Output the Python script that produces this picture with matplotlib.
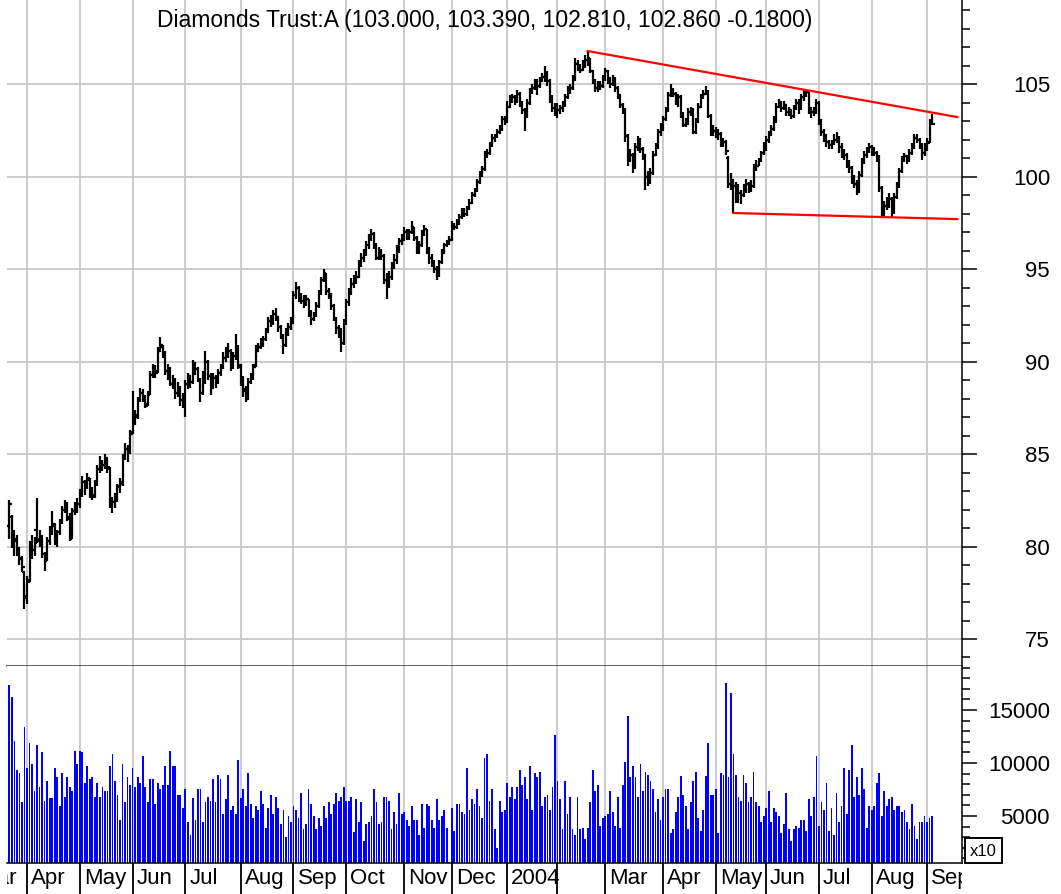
import matplotlib
matplotlib.use("Agg")
import matplotlib.pyplot as plt
from matplotlib.collections import LineCollection
from matplotlib.patches import Rectangle
from matplotlib.ticker import MultipleLocator, FuncFormatter
import numpy as np
import pandas as pd

plt.rcParams['font.family'] = ['Liberation Sans', 'DejaVu Sans']

title = "Diamonds Trust:A (103.000, 103.390, 102.810, 102.860 -0.1800)"
first_day = "2003-03-21"
# NYSE closed days in the window
holidays = ["2003-04-18", "2003-05-26", "2003-07-04", "2003-09-01", "2003-11-27",
            "2003-12-25", "2004-01-01", "2004-01-19", "2004-02-16", "2004-04-09",
            "2004-05-31", "2004-06-11", "2004-07-05", "2004-09-06"]

# daily bars, one line per month (Mar 2003 .. Sep 2004)
opens = [
    81.1, 81.6, 80.0, 80.3, 79.7, 79.3, 78.6,
    77.3, 78.2, 80.0, 79.8, 80.9, 80.3, 80.4, 79.6, 79.3, 80.3, 80.8, 81.1, 80.4, 80.8, 81.4, 82.0, 82.2, 81.5, 80.5, 81.9, 82.2,
    82.3, 82.9, 83.5, 83.2, 83.6, 82.8, 82.8, 83.5, 84.2, 84.6, 84.4, 84.7, 84.2, 82.3, 82.4, 82.6, 83.3, 83.5, 84.9, 85.3, 85.2,
    86.2, 86.9, 87.1, 87.9, 88.3, 88.1, 87.7, 88.3, 89.3, 89.6, 89.5, 90.6, 90.8, 90.5, 89.5, 89.6, 88.8, 89.0, 88.3, 88.6, 87.9,
    88.0, 88.8, 89.2, 88.9, 89.9, 89.6, 89.0, 88.3, 89.0, 90.0, 89.2, 88.6, 89.1, 89.0, 89.4, 89.7, 90.2, 90.5, 90.6, 89.8, 90.3, 90.8,
    89.7, 89.0, 88.5, 88.0, 88.9, 89.2, 89.8, 90.6, 90.8, 91.0, 91.2, 91.7, 92.2, 92.1, 92.6, 92.4, 91.9, 91.3, 90.9, 91.6, 91.9,
    92.2, 93.6, 94.0, 93.5, 93.3, 93.2, 93.4, 92.6, 92.3, 92.5, 93.0, 93.7, 94.4, 94.8, 93.8, 93.6, 93.0, 92.3, 91.8, 91.6, 91.0,
    92.1, 93.2, 93.8, 94.2, 94.4, 94.6, 95.3, 95.6, 95.9, 96.3, 96.7, 96.9, 96.3, 95.6, 96.0, 95.7, 94.4, 94.3, 94.6, 95.2, 95.5, 96.1, 96.5,
    96.6, 97.0, 96.8, 97.0, 97.3, 96.7, 96.0, 96.3, 96.9, 97.2, 96.0, 95.6, 95.3, 95.0, 94.7, 95.4, 95.9, 96.3, 96.4,
    96.6, 97.3, 97.3, 97.5, 97.8, 98.1, 98.0, 98.3, 98.6, 99.0, 99.3, 99.7, 100.1, 100.4, 101.2, 101.3, 101.7, 102.1, 102.2, 102.4, 102.6, 103.1,
    103.0, 103.8, 104.2, 104.3, 104.1, 104.5, 104.0, 103.6, 103.3, 104.0, 104.6, 104.8, 105.1, 104.9, 105.2, 105.4, 105.6, 105.2, 104.2, 103.7,
    103.6, 103.6, 103.7, 103.9, 104.3, 104.7, 104.8, 105.3, 106.1, 106.0, 105.8, 106.1, 106.3, 106.4, 105.7, 105.2, 104.8, 105.0, 104.9,
    105.3, 105.7, 105.2, 105.0, 105.3, 104.8, 104.4, 103.9, 103.6, 102.2, 100.9, 101.2, 100.5, 101.6, 102.0, 101.5, 101.2, 100.0, 99.7, 100.2, 101.2, 101.6, 102.4,
    102.6, 103.1, 103.6, 104.4, 104.7, 104.5, 104.1, 104.3, 103.4, 102.8, 103.0, 103.5, 103.6, 102.4, 103.0, 103.8, 104.3, 104.5, 104.6, 103.3, 102.4,
    102.5, 102.4, 102.3, 101.8, 101.9, 101.0, 99.6, 99.8, 99.5, 99.4, 99.1, 99.0, 99.3, 99.6, 99.3, 99.5, 100.5, 100.6, 100.9, 101.3,
    101.7, 102.0, 102.3, 102.6, 103.0, 103.8, 104.0, 103.7, 103.9, 103.5, 103.6, 103.3, 103.7, 104.0, 103.7, 104.3, 104.5, 104.6, 103.6, 103.5, 103.6,
    104.0, 103.0, 102.4, 102.1, 101.9, 101.7, 101.8, 102.0, 102.1, 101.6, 101.3, 101.2, 100.7, 100.5, 99.9, 99.6, 99.2, 100.1, 100.8, 101.2, 101.4,
    101.6, 101.4, 101.3, 101.0, 99.4, 98.1, 98.4, 98.6, 98.8, 98.1, 98.9, 99.5, 100.3, 100.9, 101.1, 100.9, 101.3, 101.6, 102.1, 102.0, 101.7, 101.3,
    101.6, 101.9, 103.0,
]
highs = [
    82.5, 81.7, 80.9, 80.6, 80.0, 79.5, 78.7,
    78.4, 80.3, 80.6, 80.5, 82.6, 80.9, 80.6, 79.7, 80.5, 81.1, 81.9, 81.3, 80.9, 81.5, 82.2, 82.5, 82.4, 81.8, 82.1, 82.4, 82.6,
    83.1, 83.8, 83.6, 84.0, 83.7, 83.2, 83.6, 84.4, 84.9, 84.7, 85.0, 84.8, 84.3, 82.7, 82.9, 83.4, 83.7, 85.0, 85.6, 85.5, 86.3,
    88.4, 87.4, 88.1, 88.6, 88.5, 88.2, 88.4, 89.5, 89.9, 89.8, 90.8, 91.35, 90.9, 90.6, 89.9, 89.7, 89.3, 89.1, 88.9, 88.7, 88.3,
    89.0, 89.4, 89.3, 90.1, 90.0, 89.7, 89.1, 89.5, 90.6, 90.1, 89.4, 89.4, 89.3, 89.6, 89.9, 90.5, 90.8, 91.0, 90.7, 90.5, 91.5, 90.9,
    89.9, 89.2, 88.7, 89.1, 89.4, 89.9, 90.9, 91.0, 91.3, 91.4, 91.8, 92.4, 92.5, 92.8, 92.9, 92.4, 92.0, 91.5, 91.8, 92.1, 92.4,
    93.8, 94.3, 94.1, 93.7, 93.6, 93.6, 93.4, 92.8, 92.7, 93.2, 93.9, 94.6, 95.0, 94.8, 94.0, 93.7, 93.1, 92.4, 92.0, 91.8, 92.3,
    93.4, 94.0, 94.5, 94.7, 94.9, 95.5, 95.9, 96.1, 96.5, 96.9, 97.2, 97.0, 96.4, 96.2, 96.1, 95.8, 94.8, 94.9, 95.4, 95.8, 96.3, 96.7, 96.9,
    97.3, 97.2, 97.2, 97.6, 97.3, 96.8, 96.5, 97.1, 97.4, 97.2, 96.2, 95.8, 95.5, 95.2, 95.5, 96.1, 96.4, 96.6, 96.8,
    97.6, 97.5, 97.7, 98.0, 98.3, 98.3, 98.4, 98.8, 99.2, 99.4, 99.9, 100.3, 100.6, 101.4, 101.5, 101.9, 102.3, 102.3, 102.6, 102.8, 103.3, 103.3,
    104.1, 104.4, 104.5, 104.4, 104.7, 104.6, 104.1, 103.7, 104.2, 104.8, 105.0, 105.3, 105.3, 105.4, 105.6, 106.0, 105.7, 105.3, 104.4, 104.0,
    104.0, 103.9, 104.1, 104.5, 104.9, 105.0, 105.5, 106.4, 106.3, 106.1, 106.3, 106.6, 106.8, 106.4, 105.8, 105.3, 105.2, 105.2, 105.5,
    105.9, 105.8, 105.4, 105.5, 105.4, 104.9, 104.5, 104.0, 103.7, 102.3, 101.5, 101.3, 101.8, 102.2, 102.1, 101.6, 101.2, 100.3, 100.5, 101.4, 101.8, 102.6, 102.9,
    103.3, 103.8, 104.6, 105.0, 104.8, 104.6, 104.5, 104.4, 103.5, 103.2, 103.7, 103.8, 103.7, 103.2, 104.0, 104.5, 104.7, 104.9, 104.7, 103.4, 102.8,
    102.7, 102.6, 102.4, 102.1, 102.0, 101.1, 100.2, 99.9, 99.7, 99.6, 99.3, 99.6, 99.9, 99.7, 99.8, 100.7, 100.9, 101.0, 101.4, 101.9,
    102.2, 102.5, 102.8, 103.3, 104.0, 104.2, 104.1, 104.1, 103.9, 103.8, 103.6, 103.9, 104.2, 104.2, 104.5, 104.7, 104.7, 104.6, 103.8, 103.8, 104.2,
    104.1, 103.1, 102.6, 102.3, 102.0, 102.0, 102.3, 102.4, 102.2, 101.8, 101.5, 101.3, 100.9, 100.6, 100.1, 99.8, 100.3, 101.0, 101.4, 101.6, 101.8,
    101.7, 101.6, 101.4, 101.2, 99.5, 98.7, 98.9, 99.1, 98.9, 99.1, 99.7, 100.5, 101.1, 101.3, 101.2, 101.5, 101.8, 102.3, 102.3, 102.1, 101.8, 101.8,
    102.1, 103.15, 103.39,
]
lows = [
    80.4, 79.9, 79.5, 79.5, 79.0, 78.6, 76.6,
    76.9, 78.1, 79.3, 79.5, 80.2, 80.0, 79.4, 78.7, 79.2, 80.1, 80.6, 80.1, 80.0, 80.6, 81.2, 81.8, 81.4, 80.3, 80.4, 81.7, 81.8,
    82.1, 82.7, 82.8, 83.1, 82.6, 82.5, 82.6, 83.3, 84.0, 84.1, 84.2, 84.0, 82.1, 81.8, 82.1, 82.4, 82.9, 83.3, 84.7, 84.6, 85.0,
    86.1, 86.6, 86.9, 87.8, 87.8, 87.5, 87.6, 88.2, 89.1, 89.1, 89.4, 90.5, 90.2, 89.3, 89.0, 88.7, 88.5, 88.0, 88.1, 87.6, 87.5,
    87.0, 88.5, 88.6, 88.8, 89.3, 88.9, 87.8, 88.2, 88.8, 89.0, 88.2, 88.5, 88.6, 88.8, 89.2, 89.6, 90.0, 90.2, 89.5, 89.6, 90.1, 89.6,
    88.7, 88.1, 87.8, 87.9, 88.8, 89.0, 89.7, 90.5, 90.7, 90.8, 91.1, 91.6, 91.9, 92.0, 92.2, 91.6, 91.2, 90.4, 90.8, 91.4, 91.7,
    92.1, 93.4, 93.2, 93.1, 92.9, 93.0, 92.4, 92.0, 92.2, 92.4, 92.9, 93.6, 94.3, 93.6, 93.4, 92.8, 92.2, 91.5, 91.3, 90.5, 90.9,
    92.0, 93.0, 93.6, 94.0, 94.2, 94.5, 95.1, 95.4, 95.7, 96.1, 96.5, 96.1, 95.5, 95.5, 95.5, 94.2, 93.4, 94.0, 94.4, 95.0, 95.3, 95.9, 96.3,
    96.5, 96.6, 96.6, 96.9, 96.5, 95.8, 95.8, 96.2, 96.8, 95.8, 95.3, 95.1, 94.8, 94.4, 94.6, 95.3, 95.8, 96.2, 96.3,
    96.5, 97.1, 97.2, 97.4, 97.7, 97.8, 97.9, 98.2, 98.5, 98.9, 99.2, 99.6, 100.0, 100.3, 101.0, 101.2, 101.6, 101.9, 102.1, 102.3, 102.5, 102.8,
    102.9, 103.7, 104.0, 103.9, 104.0, 103.8, 103.4, 102.5, 103.2, 103.9, 104.5, 104.7, 104.4, 104.8, 105.1, 105.1, 104.9, 104.0, 103.5, 103.3,
    103.2, 103.4, 103.5, 103.8, 104.2, 104.5, 104.7, 105.2, 105.7, 105.6, 105.7, 105.9, 106.0, 105.6, 105.0, 104.6, 104.6, 104.7, 104.8,
    105.2, 105.0, 104.8, 104.9, 104.6, 104.2, 103.7, 103.4, 101.9, 100.6, 100.8, 100.2, 100.5, 101.4, 101.3, 100.9, 99.3, 99.5, 99.6, 100.1, 101.1, 101.5, 102.2,
    102.5, 103.0, 103.5, 104.3, 104.3, 103.9, 103.8, 103.2, 102.7, 102.7, 102.8, 103.3, 102.3, 102.3, 102.9, 103.7, 104.2, 104.4, 103.2, 102.2, 102.2,
    102.1, 102.0, 101.6, 101.6, 101.2, 99.4, 99.3, 98.05, 98.6, 98.6, 98.5, 98.9, 99.1, 99.1, 99.2, 99.4, 100.3, 100.6, 100.8, 101.2,
    101.4, 101.8, 102.2, 102.5, 102.9, 103.7, 103.5, 103.6, 103.3, 103.3, 103.1, 103.2, 103.6, 103.4, 103.6, 104.1, 104.3, 103.4, 103.2, 103.3, 103.4,
    102.8, 102.2, 101.9, 101.6, 101.5, 101.5, 101.7, 101.8, 101.3, 101.0, 100.9, 100.5, 100.2, 99.6, 99.4, 99.0, 99.1, 100.0, 100.7, 101.0, 101.3,
    101.1, 101.1, 100.8, 99.2, 97.9, 97.9, 98.2, 98.3, 97.82, 98.0, 98.8, 99.4, 100.2, 100.8, 100.7, 100.8, 101.2, 101.5, 101.8, 101.5, 100.9, 101.1,
    101.4, 101.8, 102.81,
]
closes = [
    82.3, 80.2, 80.4, 79.8, 79.4, 78.9, 77.2,
    78.1, 80.0, 79.8, 80.2, 80.4, 80.5, 79.6, 79.2, 80.3, 80.9, 81.2, 80.3, 80.8, 81.4, 82.0, 82.3, 81.6, 80.4, 81.9, 82.2, 82.3,
    82.8, 83.5, 83.3, 83.7, 82.9, 82.7, 83.4, 84.2, 84.6, 84.4, 84.8, 84.3, 82.3, 82.4, 82.6, 83.2, 83.4, 84.8, 85.3, 85.1, 86.1,
    86.9, 87.0, 87.9, 88.3, 88.1, 87.6, 88.2, 89.3, 89.6, 89.4, 90.6, 90.9, 90.5, 89.5, 89.6, 88.8, 89.0, 88.3, 88.6, 87.9, 88.0,
    88.8, 89.2, 88.9, 89.9, 89.6, 89.0, 88.3, 88.9, 90.0, 89.2, 88.6, 89.1, 89.0, 89.4, 89.7, 90.2, 90.5, 90.6, 89.8, 90.3, 90.8, 89.8,
    89.0, 88.4, 88.0, 88.9, 89.2, 89.7, 90.6, 90.8, 91.0, 91.2, 91.6, 92.2, 92.1, 92.6, 92.4, 91.9, 91.3, 90.9, 91.6, 91.9, 92.1,
    93.6, 94.0, 93.5, 93.3, 93.2, 93.4, 92.6, 92.3, 92.5, 93.0, 93.7, 94.4, 94.8, 93.8, 93.6, 93.0, 92.3, 91.8, 91.6, 91.0, 92.1,
    93.2, 93.8, 94.2, 94.4, 94.6, 95.3, 95.6, 95.9, 96.3, 96.7, 96.9, 96.3, 95.6, 96.0, 95.7, 94.4, 94.3, 94.6, 95.2, 95.5, 96.1, 96.5, 96.6,
    97.0, 96.8, 97.0, 97.3, 96.7, 96.0, 96.3, 96.9, 97.2, 96.0, 95.6, 95.3, 95.0, 94.7, 95.4, 95.9, 96.3, 96.4, 96.6,
    97.3, 97.3, 97.5, 97.8, 98.1, 98.0, 98.3, 98.6, 99.0, 99.3, 99.7, 100.1, 100.4, 101.2, 101.3, 101.7, 102.1, 102.2, 102.4, 102.6, 103.1, 103.0,
    103.8, 104.2, 104.3, 104.1, 104.5, 104.0, 103.6, 103.3, 104.0, 104.6, 104.8, 105.1, 104.9, 105.2, 105.4, 105.6, 105.2, 104.2, 103.7, 103.6,
    103.6, 103.7, 103.9, 104.3, 104.7, 104.8, 105.3, 106.1, 106.0, 105.8, 106.1, 106.3, 106.4, 105.7, 105.2, 104.8, 105.0, 104.9, 105.3,
    105.7, 105.2, 105.0, 105.3, 104.8, 104.4, 103.9, 103.6, 102.2, 100.9, 101.2, 100.5, 101.6, 102.0, 101.5, 101.2, 100.0, 99.7, 100.2, 101.2, 101.6, 102.4, 102.6,
    103.1, 103.6, 104.4, 104.7, 104.5, 104.1, 104.3, 103.4, 102.8, 103.0, 103.5, 103.6, 102.4, 103.0, 103.8, 104.3, 104.5, 104.6, 103.3, 102.4, 102.5,
    102.4, 102.3, 101.8, 101.9, 101.4, 99.6, 99.8, 99.5, 99.4, 99.1, 99.0, 99.3, 99.6, 99.3, 99.5, 100.5, 100.6, 100.9, 101.3, 101.7,
    102.0, 102.3, 102.6, 103.0, 103.8, 104.0, 103.7, 103.9, 103.5, 103.6, 103.3, 103.7, 104.0, 103.7, 104.3, 104.5, 104.6, 103.6, 103.5, 103.6, 104.0,
    103.0, 102.4, 102.1, 101.9, 101.7, 101.8, 102.0, 102.1, 101.6, 101.3, 101.2, 100.7, 100.5, 99.9, 99.6, 99.2, 100.1, 100.8, 101.2, 101.4, 101.6,
    101.4, 101.3, 101.0, 99.4, 98.1, 98.4, 98.6, 98.8, 98.1, 98.9, 99.5, 100.3, 100.9, 101.1, 100.9, 101.3, 101.6, 102.1, 102.0, 101.7, 101.3, 101.6,
    101.8, 103.04, 102.86,
]
# volume as shown on the axis (x10)
volumes = [
    17360, 16260, 12080, 9340, 9030, 6290, 13370, 9560, 11920, 9900,
    7360, 11730, 7700, 11010, 6450, 8300, 6670, 6670, 9560, 8650,
    5940, 9030, 6820, 8650, 7740, 7360, 11160, 9940, 11160, 11040,
    8080, 9750, 8460, 8650, 6820, 8110, 6820, 7740, 7360, 7360,
    9750, 10820, 8300, 7010, 4650, 9900, 6290, 8650, 7930, 9560,
    7740, 8650, 8080, 10660, 7740, 6290, 8460, 8460, 6100, 8110,
    7550, 7930, 9750, 7930, 11160, 9750, 9750, 7010, 7010, 5720,
    7550, 4470, 3180, 6670, 4650, 7550, 7550, 4470, 6290, 6820,
    6450, 8460, 6290, 8840, 8460, 5190, 6640, 8840, 5570, 5910,
    5190, 10280, 6670, 7550, 5910, 9030, 6100, 4810, 5910, 5570,
    7360, 6100, 3900, 5720, 7010, 5190, 6820, 5720, 4280, 5570,
    2990, 5000, 4470, 5910, 5570, 4810, 7200, 3740, 4280, 7550,
    6100, 5000, 3740, 4810, 4090, 5910, 4810, 6290, 5190, 6100,
    7200, 6450, 6820, 7740, 6450,
    6450, 6820, 3520, 6640, 4470, 6290, 2640, 4280, 4470, 5000,
    7550, 6290, 4280, 4470, 6820, 6820, 6450, 3740, 5380, 4280,
    7200, 5190, 5380, 4650, 4090, 5910, 4650, 4650, 3180, 6100,
    3900, 6100, 5910, 4650, 3900, 6640, 4650, 5000, 5570, 3900,
    630, 5720, 3550, 6100, 6100, 5380, 5190, 9560, 5570, 6640,
    6100, 7550, 5910, 4810, 10440, 10820, 6450, 7550, 3740, 1950,
    6450, 5380, 5570, 8080, 6820, 7740, 6640, 7740, 9370, 7930,
    8650, 6640, 9750, 5540, 9030, 8650, 9180, 5910, 6820, 7010,
    5540, 7740, 12640, 8270, 6640, 3740, 8270, 5190, 6820, 3740,
    3180, 6820, 3740, 3900, 2830, 3900, 6290, 9370, 7360, 7930,
    4090, 4810, 5000, 5190, 7360, 5380, 4090, 6820, 3900, 7930,
    10100, 14470, 8650, 9750, 8650, 6820, 9910, 7360, 9180, 8840,
    8270, 7550, 5380, 6640, 4650, 6820, 7550, 7550, 3370, 3740,
    5380,
    6820, 8810, 7010, 5910, 3740, 6290, 8270, 9180, 4810, 3550,
    5540, 8810, 11890, 7010, 7010, 7550, 3370, 9030, 8840, 17550,
    8650, 16640, 10820, 8840, 6820, 6450, 8840, 8080, 6290, 6820,
    9180, 6290, 5910, 4470, 5000, 5720, 7360, 4470, 5720, 5380,
    5000, 3370, 4280, 7200, 3740, 2640, 3740, 4090, 3900, 4650,
    4650, 3550, 6640, 5000, 6820, 10630, 4090, 6290, 5540, 8080,
    3550, 5720, 3180, 7200, 4470, 5910, 9560, 5190, 9370, 11730,
    6820, 8650, 7010, 9560, 7550, 3900, 5910, 5540, 5910, 8080,
    9030, 5000, 7360, 5910, 6640, 6820, 5540, 5910, 5910, 5380,
    5540, 4470, 3740, 6100, 4090, 2830, 4470, 4470, 5000, 4470,
    4810, 5000,
]
# month labels, Mar 2003 .. Sep 2004 (Feb 2004 has no label)
month_labels = ["Mar", "Apr", "May", "Jun", "Jul", "Aug", "Sep", "Oct", "Nov", "Dec",
                "2004", "", "Mar", "Apr", "May", "Jun", "Jul", "Aug", "Sep"]

# red trend lines: (date, price) anchors
upper_dates = ["2004-02-19", "2004-09-20"]
upper_prices = [106.8, 103.23]
lower_dates = ["2004-05-12", "2004-09-20"]
lower_prices = [98.04, 97.71]

n = len(closes)
assert len(opens) == n and len(highs) == n and len(lows) == n and len(volumes) == n, \
    (len(opens), len(highs), len(lows), n, len(volumes))

# trading calendar -> integer x positions (one slot per trading day)
cal = pd.date_range("2003-03-03", "2004-09-30",
                    freq=pd.offsets.CustomBusinessDay(holidays=holidays))
start = cal.get_loc(pd.Timestamp(first_day))
pos = np.arange(len(cal)) - start
x = pos[start:start + n].astype(float)

months = cal.to_period("M")
first_idx = np.r_[0, np.nonzero(months[1:] != months[:-1])[0] + 1]
month_x = pos[first_idx]


def day_x(d):
    return pos[cal.get_loc(pd.Timestamp(d))]


W, H = 1061, 894


def frac(l, t, r, b):
    return [l / W, 1 - b / H, (r - l) / W, (b - t) / H]


fig = plt.figure(figsize=(W / 100, H / 100), dpi=100)
ax = fig.add_axes(frac(7, 0, 962, 666))
axv = fig.add_axes(frac(7, 666, 962, 863), sharex=ax)
axd = fig.add_axes(frac(7, 863, 962, 894), sharex=ax)
ax.set_xlim(-0.95, 378.9)

grid_c = "#c8c8c8"
for a in (ax, axv):
    for mx in month_x:
        a.axvline(mx, color=grid_c, lw=1.3, zorder=0)
for lvl in range(75, 110, 5):
    ax.axhline(lvl, color=grid_c, lw=1.3, zorder=0)

# ohlc bars
tick = 1.1
segs = []
for xi, o, h, l, c in zip(x, opens, highs, lows, closes):
    segs.append([(xi, l), (xi, h)])
    segs.append([(xi - tick, o), (xi, o)])
    segs.append([(xi, c), (xi + tick, c)])
ax.add_collection(LineCollection(segs, colors="black", linewidths=1.6, zorder=3))

# trend lines
ax.plot([day_x(d) for d in upper_dates], upper_prices, color="red", lw=1.6, zorder=4)
ax.plot([day_x(d) for d in lower_dates], lower_prices, color="red", lw=1.6, zorder=4)

ax.set_ylim(73.54, 109.56)

# volume
axv.bar(x, volumes, width=0.72, color="#0000ff", linewidth=0, antialiased=False, zorder=2)
axv.set_ylim(566, 19150)

pad_pt = 52.6
for a, major, minor in ((ax, 5, 1), (axv, 5000, 1000)):
    for s in ("left", "top"):
        a.spines[s].set_visible(False)
    a.spines["right"].set_linewidth(1.1)
    a.yaxis.tick_right()
    a.yaxis.set_major_locator(MultipleLocator(major))
    a.yaxis.set_minor_locator(MultipleLocator(minor))
    a.yaxis.set_major_formatter(FuncFormatter(lambda v, p: "%d" % v))
    a.tick_params(axis="y", which="major", length=10.8, width=1.1, labelsize=16, pad=pad_pt)
    a.tick_params(axis="y", which="minor", length=5.8, width=1.1)
    a.tick_params(axis="x", which="both", length=0, labelbottom=False)
    plt.setp(a.get_yticklabels(), ha="right")
ax.spines["bottom"].set_color("#333333")
ax.spines["bottom"].set_linewidth(1.1)
axv.spines["bottom"].set_linewidth(1.1)

# date strip
axd.set_ylim(0, 1)
axd.axis("off")
for mx, lab in zip(month_x, month_labels):
    axd.axvline(mx, color="black", lw=1.3)
    axd.text(mx + 1.6, 0.5, lab, fontsize=16, ha="left", va="center", clip_on=True)

fig.text(484.5 / W, 1 - 21 / H, title, fontsize=16.5, ha="center", va="center")

# x10 multiplier box
fig.patches.append(Rectangle((965 / W, 1 - 863 / H), 37 / W, 25 / H, transform=fig.transFigure,
                             fill=True, fc="white", ec="black", lw=1.4, zorder=5))
fig.text(983.5 / W, 1 - 851 / H, "x10", fontsize=12, ha="center", va="center", zorder=6)

fig.savefig("out.png", dpi=100)
